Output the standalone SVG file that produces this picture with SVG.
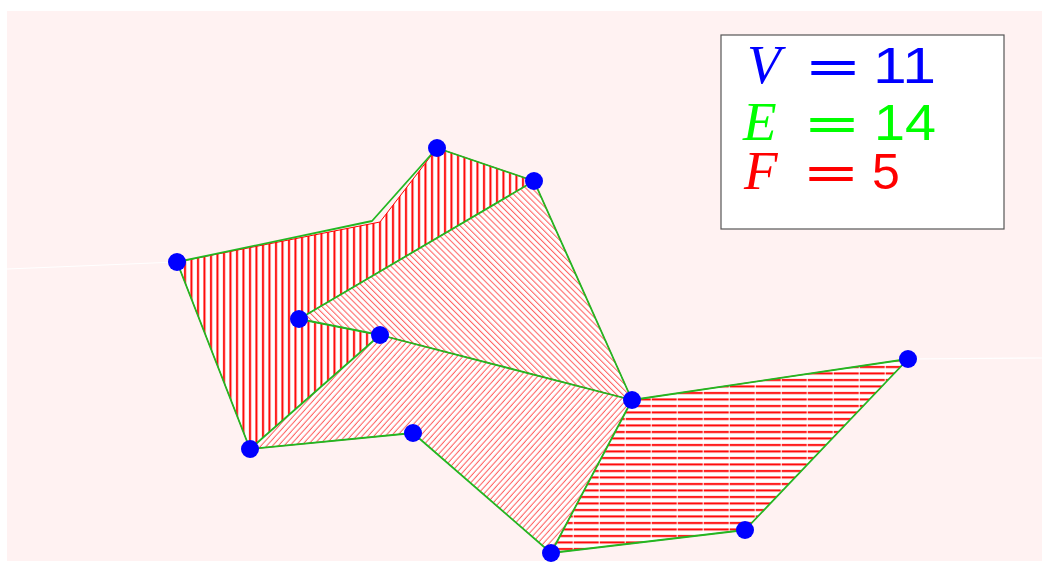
<svg xmlns="http://www.w3.org/2000/svg" width="1049" height="563" viewBox="0 0 1049 563">
<style>
.face{stroke:#ff0000;stroke-width:1}
.edge{fill:none;stroke:#22b822;stroke-width:1.8;stroke-linejoin:round}
.dot{fill:#0000ff}
.sym{font-family:"Liberation Serif",serif;font-style:italic;font-size:55px}
.op{font-family:"DejaVu Sans",sans-serif;font-size:48px}
.num{font-family:"Liberation Sans",sans-serif;font-size:50px}
</style>
<defs>
<pattern id="vert" patternUnits="userSpaceOnUse" width="6.5" height="20">
<rect width="6.5" height="20" fill="#fff"/>
<line x1="3" y1="0" x2="3" y2="20" stroke="#ff0000" stroke-width="2"/>
</pattern>
<pattern id="nwse" patternUnits="userSpaceOnUse" width="4.3" height="4.3" patternTransform="rotate(45)">
<rect width="4.3" height="4.3" fill="#fff"/>
<line x1="0" y1="2" x2="4.3" y2="2" stroke="#ff4848" stroke-width="0.9"/>
</pattern>
<pattern id="swne" patternUnits="userSpaceOnUse" width="4.3" height="4.3" patternTransform="rotate(-48)">
<rect width="4.3" height="4.3" fill="#fff"/>
<line x1="0" y1="2" x2="4.3" y2="2" stroke="#ff4848" stroke-width="0.9"/>
</pattern>
<pattern id="horiz" patternUnits="userSpaceOnUse" x="1.7" y="0" width="26" height="6.5">
<rect width="26" height="6.5" fill="#fff"/>
<line x1="0" y1="3" x2="25" y2="3" stroke="#ff0000" stroke-width="2"/>
</pattern>
</defs>
<rect id="background" x="7" y="11" width="1035" height="550" fill="#fff2f2"/>
<g id="rays" stroke="#ffffff" stroke-width="1.2">
<line x1="7" y1="269" x2="177" y2="262"/>
<line x1="908" y1="359" x2="1042" y2="358"/>
</g>
<g id="faces" class="face">
<polygon id="face1" fill="url(#vert)" points="177,262 380,222 437,148 534,181 299,319 380,335 250,449"/>
<polygon id="face2" fill="url(#nwse)" points="534,181 299,319 380,335 632,400"/>
<polygon id="face3" fill="url(#swne)" points="380,335 250,449 413,433 551,553 632,400"/>
<polygon id="face4" fill="url(#horiz)" points="632,400 908,359 745,530 551,553"/>
</g>
<g id="connectors" class="edge">
<polyline points="177,262 372,221 437,148"/>
<line x1="437" y1="148" x2="534" y2="181"/>
<line x1="534" y1="181" x2="299" y2="319"/>
<line x1="534" y1="181" x2="632" y2="400"/>
<line x1="299" y1="319" x2="380" y2="335"/>
<line x1="380" y1="335" x2="250" y2="449"/>
<line x1="177" y1="262" x2="250" y2="449"/>
<line x1="250" y1="449" x2="413" y2="433"/>
<line x1="413" y1="433" x2="551" y2="553"/>
<line x1="380" y1="335" x2="632" y2="400"/>
<line x1="632" y1="400" x2="551" y2="553"/>
<line x1="632" y1="400" x2="908" y2="359"/>
<line x1="908" y1="359" x2="745" y2="530"/>
<line x1="745" y1="530" x2="551" y2="553"/>
</g>
<g id="nodes" class="dot">
<circle id="v1" cx="177" cy="262" r="9"/>
<circle id="v2" cx="437" cy="148" r="9"/>
<circle id="v3" cx="534" cy="181" r="9"/>
<circle id="v4" cx="299" cy="319" r="9"/>
<circle id="v5" cx="380" cy="335" r="9"/>
<circle id="v6" cx="250" cy="449" r="9"/>
<circle id="v7" cx="413" cy="433" r="9"/>
<circle id="v8" cx="632" cy="400" r="9"/>
<circle id="v9" cx="551" cy="553" r="9"/>
<circle id="v10" cx="745" cy="530" r="9"/>
<circle id="v11" cx="908" cy="359" r="9"/>
</g>
<g id="legend">
<rect x="721" y="35" width="283" height="194" fill="#ffffff" stroke="#555555" stroke-width="1.2"/>
<g fill="#0000ff">
<text class="sym" x="747" y="83">V</text>
<text class="op" x="804" y="83" textLength="58" lengthAdjust="spacingAndGlyphs">=</text>
<text class="num" x="873" y="83" textLength="63" lengthAdjust="spacingAndGlyphs">11</text>
</g>
<g fill="#00ff00">
<text class="sym" x="743" y="140">E</text>
<text class="op" x="803" y="140" textLength="58" lengthAdjust="spacingAndGlyphs">=</text>
<text class="num" x="874" y="140" textLength="62" lengthAdjust="spacingAndGlyphs">14</text>
</g>
<g fill="#ff0000">
<text class="sym" x="744" y="189">F</text>
<text class="op" x="802" y="189" textLength="58" lengthAdjust="spacingAndGlyphs">=</text>
<text class="num" x="872" y="189">5</text>
</g>
</g>
</svg>
